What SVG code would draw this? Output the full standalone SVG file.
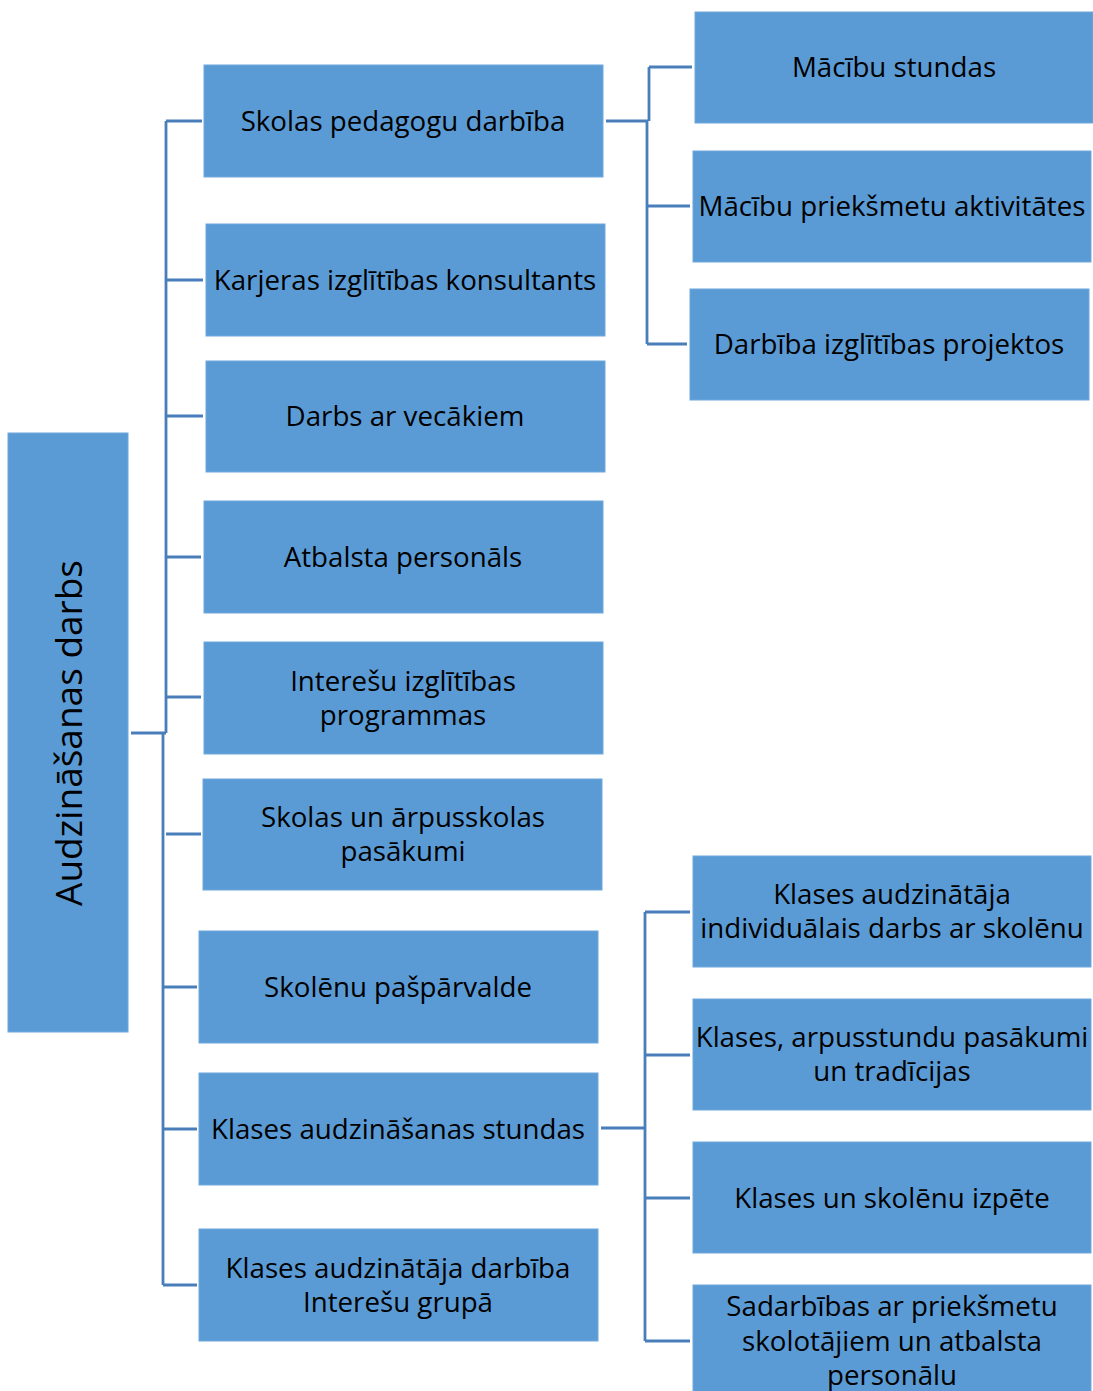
<svg xmlns="http://www.w3.org/2000/svg" width="1093" height="1391" viewBox="0 0 1093 1391">
<style>
.b{fill:#5b9bd5;stroke:#6fa8dc;stroke-width:1}
.t{font-family:"Open Sans","Noto Sans",sans-serif;font-size:27.7px;fill:#000;text-anchor:middle;dominant-baseline:central}
.c{fill:none;stroke:#4a7ebb;stroke-width:2.8}
</style>
<rect width="1093" height="1391" fill="#fff"/>
<g id="connectors">
<path class="c" d="M131 733H166M166 121V733M163 733V1285M166 121H202M166 280H203M166 416H203M166 557H201M166 697H201M166 834H201M163 987H197M163 1129H197M163 1285H197"/>
<path class="c" d="M606 121H648M647 121V344M649 67V121M649 67H692M647 206H690M647 344H687"/>
<path class="c" d="M601 1128H645M645 912V1341M645 912H690M645 1055H690M645 1198H690M645 1341H690"/>
</g>
<g id="root"><rect class="b" x="8" y="433" width="120" height="599"/><text class="t" style="font-size:37px" transform="translate(67 733) rotate(-90)">Audzināšanas darbs</text></g>
<g id="n1"><rect class="b" x="204" y="65" width="399" height="112"/><text class="t" x="403" y="120">Skolas pedagogu darbība</text></g>
<g id="n2"><rect class="b" x="206" y="224" width="399" height="112"/><text class="t" x="405" y="279">Karjeras izglītības konsultants</text></g>
<g id="n3"><rect class="b" x="206" y="361" width="399" height="111"/><text class="t" x="405" y="415">Darbs ar vecākiem</text></g>
<g id="n4"><rect class="b" x="204" y="501" width="399" height="112"/><text class="t" x="403" y="556">Atbalsta personāls</text></g>
<g id="n5"><rect class="b" x="204" y="642" width="399" height="112"/><text class="t" x="403" y="680">Interešu izglītības</text><text class="t" x="403" y="714">programmas</text></g>
<g id="n6"><rect class="b" x="203" y="779" width="399" height="111"/><text class="t" x="403" y="816">Skolas un ārpusskolas</text><text class="t" x="403" y="850">pasākumi</text></g>
<g id="n7"><rect class="b" x="199" y="931" width="399" height="112"/><text class="t" x="398" y="986">Skolēnu pašpārvalde</text></g>
<g id="n8"><rect class="b" x="199" y="1073" width="399" height="112"/><text class="t" x="398" y="1128">Klases audzināšanas stundas</text></g>
<g id="n9"><rect class="b" x="199" y="1229" width="399" height="112"/><text class="t" x="398" y="1267">Klases audzinātāja darbība</text><text class="t" x="398" y="1301">Interešu grupā</text></g>
<g id="r1"><rect class="b" x="695" y="12" width="398" height="111"/><text class="t" x="894" y="66">Mācību stundas</text></g>
<g id="r2"><rect class="b" x="693" y="151" width="398" height="111"/><text class="t" x="892" y="205">Mācību priekšmetu aktivitātes</text></g>
<g id="r3"><rect class="b" x="690" y="289" width="399" height="111"/><text class="t" x="889" y="343">Darbība izglītības projektos</text></g>
<g id="r4"><rect class="b" x="693" y="856" width="398" height="111"/><text class="t" x="892" y="893">Klases audzinātāja</text><text class="t" x="892" y="927">individuālais darbs ar skolēnu</text></g>
<g id="r5"><rect class="b" x="693" y="999" width="398" height="111"/><text class="t" x="892" y="1036">Klases, arpusstundu pasākumi</text><text class="t" x="892" y="1070">un tradīcijas</text></g>
<g id="r6"><rect class="b" x="693" y="1142" width="398" height="111"/><text class="t" x="892" y="1197">Klases un skolēnu izpēte</text></g>
<g id="r7"><rect class="b" x="693" y="1285" width="398" height="120"/><text class="t" x="892" y="1305">Sadarbības ar priekšmetu</text><text class="t" x="892" y="1340">skolotājiem un atbalsta</text><text class="t" x="892" y="1374">personālu</text></g>
</svg>
